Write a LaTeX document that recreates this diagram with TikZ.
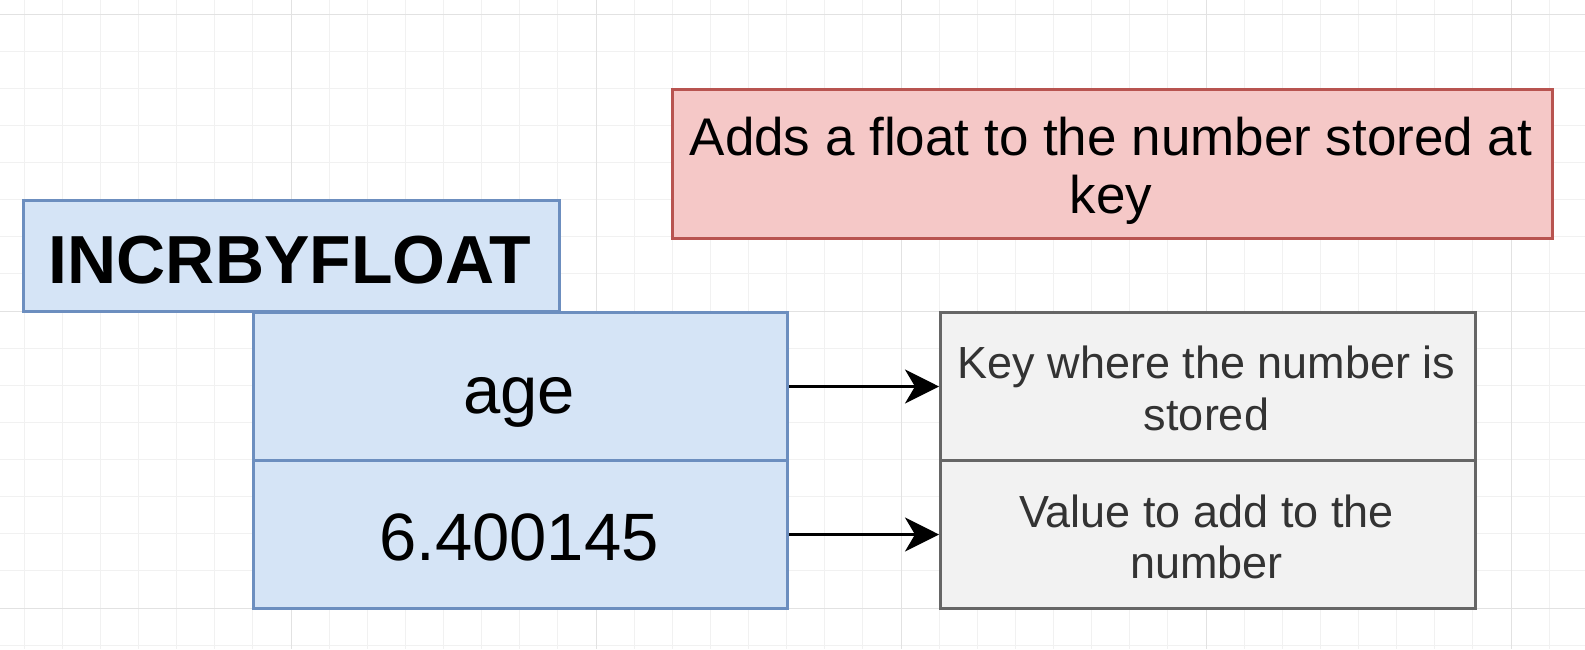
\documentclass[tikz,border=0pt]{standalone}
\usepackage{fontspec}
\setmainfont{Liberation Sans}
\usetikzlibrary{arrows.meta}
\definecolor{bluefill}{HTML}{D5E4F6}
\definecolor{bluedraw}{HTML}{6C8EBF}
\definecolor{redfill}{HTML}{F5C8C7}
\definecolor{reddraw}{HTML}{B85450}
\definecolor{grayfill}{HTML}{F2F2F2}
\definecolor{graydraw}{HTML}{666666}
\definecolor{graytext}{HTML}{333333}
\definecolor{gridminor}{HTML}{F1F1F1}
\definecolor{gridmajor}{HTML}{E2E2E2}
\begin{document}
\begin{tikzpicture}[x=1pt,y=-1pt,
  box/.style={draw, line width=3pt, inner sep=0pt, anchor=north west},
  bluebox/.style={box, fill=bluefill, draw=bluedraw},
  redbox/.style={box, fill=redfill, draw=reddraw},
  graybox/.style={box, fill=grayfill, draw=graydraw},
  txt/.style={inner sep=0pt, anchor=base},
  cmdtxt/.style={txt, font=\fontsize{68}{80}\selectfont\bfseries},
  argtxt/.style={txt, font=\fontsize{67}{80}\selectfont},
  desctxt/.style={txt, font=\fontsize{53}{62}\selectfont},
  notetxt/.style={txt, text=graytext, font=\fontsize{45}{52}\selectfont},
  conn/.style={line width=3pt, -{Stealth[length=34pt,width=34pt,inset=10pt]}},
]
\useasboundingbox (0,0) rectangle (1585,649);
\fill[white] (0,0) rectangle (1585,649);
% grid
\foreach \k in {-7,...,34} {
  \draw[gridminor, line width=1pt] ({291+\k*38.125},0) -- ({291+\k*38.125},649);
}
\foreach \k in {0,...,17} {
  \draw[gridminor, line width=1pt] (0,{14+\k*37.125}) -- (1585,{14+\k*37.125});
}
\foreach \k in {0,...,4} {
  \draw[gridmajor, line width=1pt] ({291+\k*305},0) -- ({291+\k*305},649);
}
\foreach \k in {0,1,2} {
  \draw[gridmajor, line width=1pt] (0,{14+\k*297}) -- (1585,{14+\k*297});
}
% boxes
\node[bluebox, minimum width=536pt, minimum height=111pt] (cmd) at (22,199) {};
\node[bluebox, minimum width=534pt, minimum height=148pt] (age) at (252,311) {};
\node[bluebox, minimum width=534pt, minimum height=148pt] (val) at (252,459) {};
\node[redbox, minimum width=880pt, minimum height=149pt] (desc) at (671,88) {};
\node[graybox, minimum width=535pt, minimum height=148pt] (keyd) at (939,311) {};
\node[graybox, minimum width=535pt, minimum height=148pt] (vald) at (939,459) {};
% texts
\node[cmdtxt] (t1) at (290,283) {INCRBYFLOAT};
\node[argtxt] (t2) at (519,413) {age};
\node[argtxt] (t3) at (519,560) {6.400145};
\node[desctxt] (t4) at (1111,155) {Adds a float to the number stored at};
\node[desctxt] (t5) at (1111,213) {key};
\node[notetxt] (t6) at (1206.5,378) {Key where the number is};
\node[notetxt] (t7) at (1206.5,430) {stored};
\node[notetxt] (t8) at (1206.5,527) {Value to add to the};
\node[notetxt] (t9) at (1206.5,578) {number};
% connectors
\draw[conn] (age.east) -- (keyd.west);
\draw[conn] (val.east) -- (vald.west);
\end{tikzpicture}
\end{document}
